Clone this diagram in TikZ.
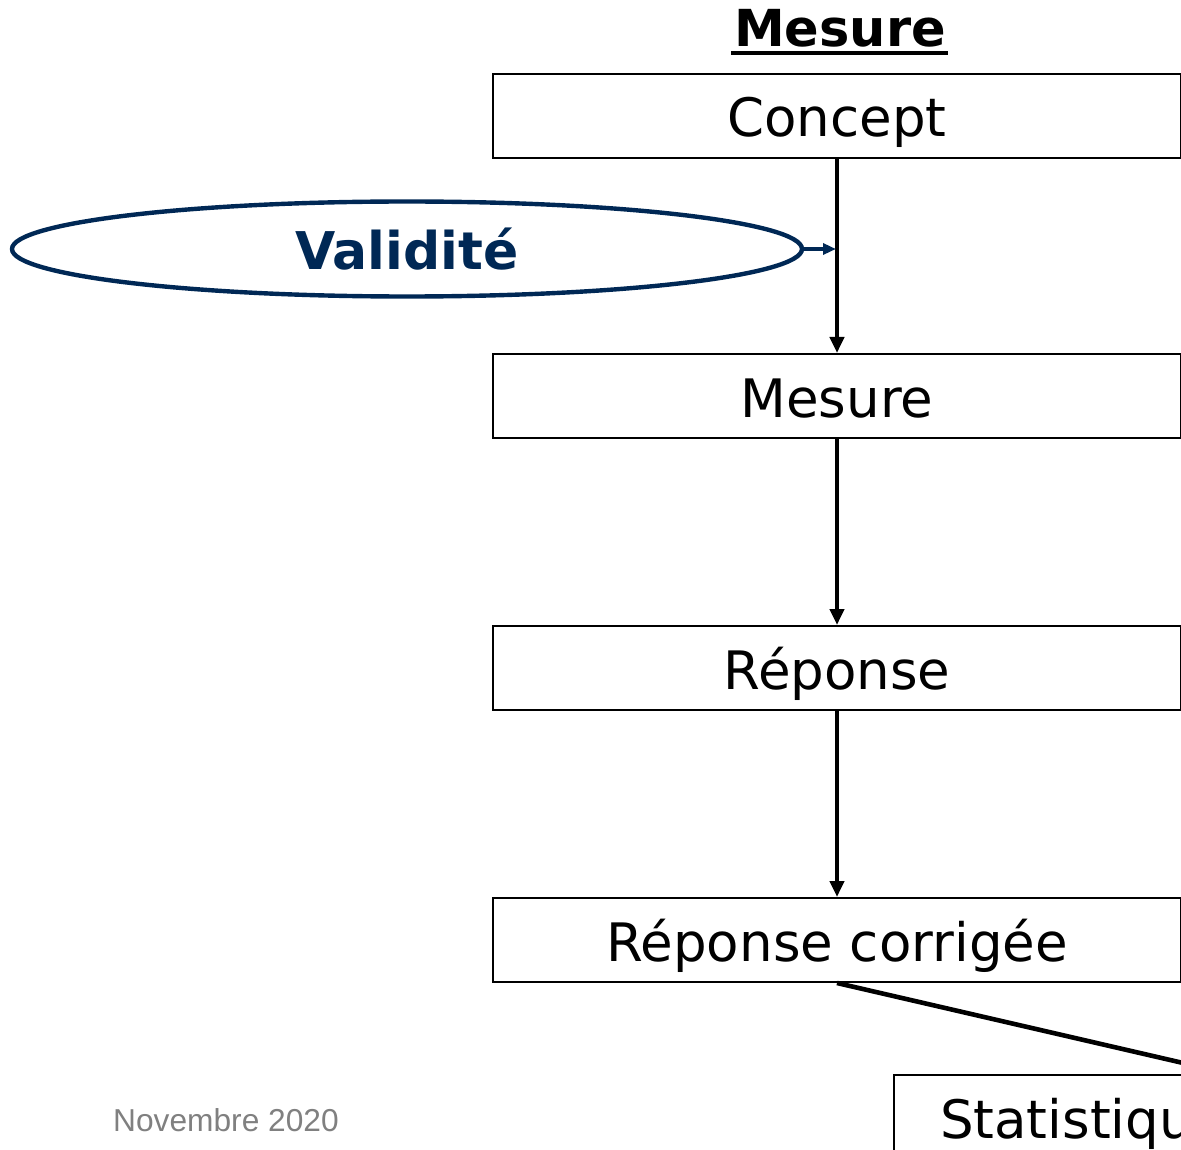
\documentclass[tikz,border=0pt]{standalone}
\usepackage{fontspec}
\setmainfont{DejaVu Sans}
\newfontfamily\footfont{Liberation Sans}
\usetikzlibrary{arrows.meta,shapes.geometric}
\definecolor{navy}{HTML}{002855}
\definecolor{footgray}{HTML}{808080}
\tikzset{
  boxbase/.style={draw=black,line width=2pt,minimum height=84pt,inner ysep=0pt,
    text height=46pt,text depth=4pt,font=\fontsize{53}{60}\selectfont},
  stepbox/.style={boxbase,minimum width=688pt,inner xsep=0pt},
  flow/.style={line width=4.6pt,-{Triangle[width=14pt,length=16pt]}},
}
\begin{document}
\begin{tikzpicture}[x=1pt,y=-1pt]
\useasboundingbox (0,0) rectangle (1181,1150);
\clip (0,0) rectangle (1181,1150);
\node[anchor=base,inner sep=0pt,font=\fontsize{51}{56}\selectfont\bfseries] (title) at (840,47) {Mesure};
\draw[line width=4pt] (731,53) -- (948,53);
\node[stepbox] (concept) at (837,116) {Concept};
\node[stepbox] (mesure) at (837,396) {Mesure};
\node[stepbox] (reponse) at (837,668) {Réponse};
\node[stepbox] (corr) at (837,940) {Réponse corrigée};
\node[boxbase,inner xsep=46pt,anchor=north west] (stat) at (893,1074) {Statistiques};
\draw[flow] (concept.south) -- (mesure.north);
\draw[flow] (mesure.south) -- (reponse.north);
\draw[flow] (reponse.south) -- (corr.north);
\coordinate (far) at (1300,1090);
\draw[line width=4.6pt] (corr.south) -- (far);
\node[ellipse,draw=navy,line width=4.4pt,minimum width=790pt,minimum height=95pt,inner sep=0pt] (valid) at (407,249) {};
\node[anchor=base,inner sep=0pt,text=navy,font=\fontsize{52}{56}\selectfont\bfseries] (vtext) at (407,270) {Validité};
\coordinate (vend) at (836,249);
\draw[navy,line width=4.4pt,-{Triangle[width=11pt,length=13pt]}] (valid.east) -- (vend);
\node[anchor=west,text=footgray,font=\footfont\fontsize{31.7}{36}\selectfont,inner sep=0pt] (foot) at (113,1120) {Novembre 2020};
\end{tikzpicture}
\end{document}
